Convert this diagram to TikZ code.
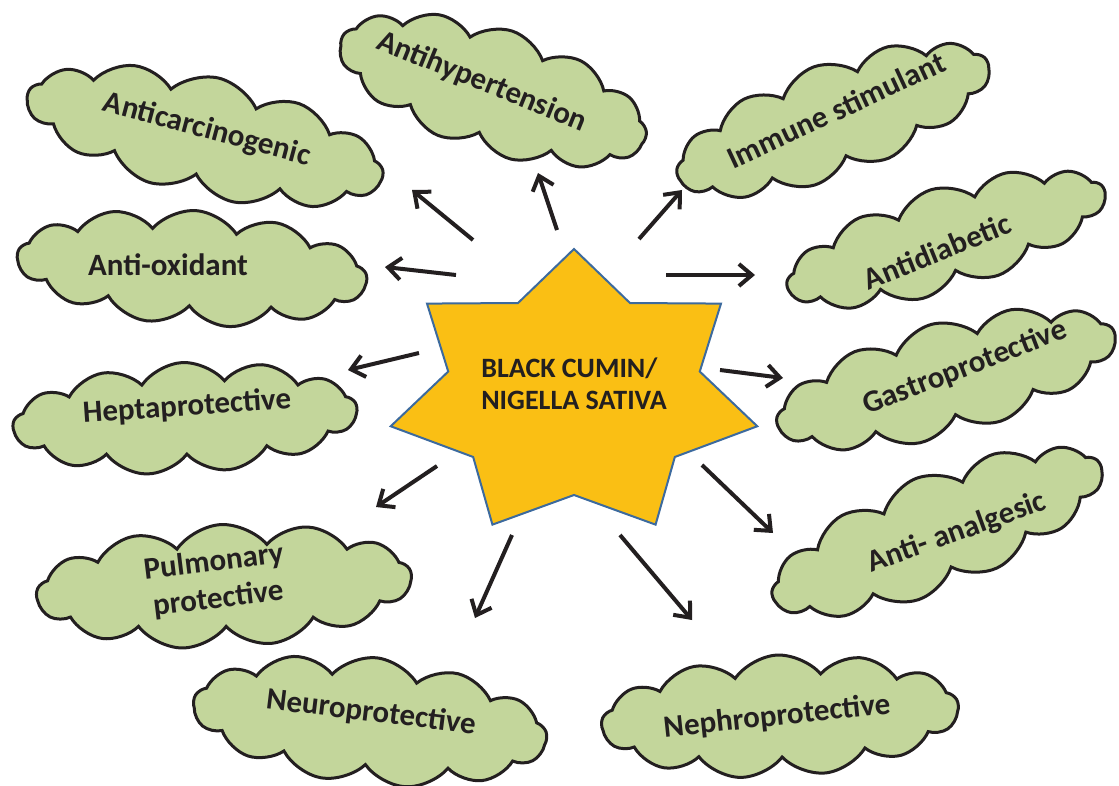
\documentclass[tikz,border=0pt]{standalone}
\usepackage{fontspec}
\setmainfont{Carlito}
\usetikzlibrary{arrows.meta,shapes.symbols}
\definecolor{leaf}{HTML}{C3D69B}
\definecolor{gold}{HTML}{FABF14}
\definecolor{steel}{HTML}{3C6A9E}
\definecolor{ink}{HTML}{231F20}

\begin{document}
\begin{tikzpicture}[
    x=1pt,y=-1pt,
    >={Straight Barb[length=13pt,width=22pt]},
    every node/.style={text=ink,font=\bfseries\fontsize{31}{37}\selectfont},
    puff/.style={cloud,cloud puffs=13,cloud puff arc=105,cloud ignores aspect,draw=ink,line width=3pt,fill=leaf,inner sep=0pt},
    tag/.style={inner sep=0pt,align=center},
    arr/.style={->,draw=ink,line width=4pt},
    corestar/.style={fill=gold,draw=steel,line width=2pt,line join=miter}
]
\path[use as bounding box,fill=white] (0,0) rectangle (1119,786);

% clouds round the star
\node[puff,minimum width=320pt,minimum height=124pt,rotate=-18] (hyper) at (493,90) {};
\node[tag,rotate=-22] (hyper-t) at (482,82) {Antihypertension};
\node[puff,minimum width=364pt,minimum height=119pt,rotate=-13] (carc) at (205,136) {};
\node[tag,rotate=-15] (carc-t) at (207,130) {Anticarcinogenic};
\node[puff,minimum width=330pt,minimum height=113pt,rotate=20] (immune) at (833,120) {};
\node[tag,rotate=25] (immune-t) at (836,110) {Immune stimulant};
\node[puff,minimum width=350pt,minimum height=115pt,rotate=-4] (oxid) at (192,268) {};
\node[tag] (oxid-t) at (168,265) {Anti-oxidant};
\node[puff,minimum width=344pt,minimum height=111pt,rotate=3] (hepta) at (185,418) {};
\node[tag,rotate=4] (hepta-t) at (187,407) {Heptaprotective};
\node[puff,minimum width=331pt,minimum height=103pt,rotate=17] (diab) at (946,239) {};
\node[tag,rotate=22] (diab-t) at (937,251) {Antidiabetic};
\node[puff,minimum width=349pt,minimum height=113pt,rotate=15] (gastro) at (946,379) {};
\node[tag,rotate=21] (gastro-t) at (965,368) {Gastroprotective};
\node[puff,minimum width=375pt,minimum height=123pt,rotate=3] (pulm) at (224,586) {};
\node[tag,rotate=7] (pulm-t) at (216,581) {Pulmonary\\protective};
\node[puff,minimum width=353pt,minimum height=115pt,rotate=22] (analg) at (937,532) {};
\node[tag,rotate=20] (analg-t) at (957,533) {Anti- analgesic};
\node[puff,minimum width=355pt,minimum height=127pt,rotate=-6] (neuro) at (370,721) {};
\node[tag,rotate=-7] (neuro-t) at (371,713) {Neuroprotective};
\node[puff,minimum width=357pt,minimum height=122pt,rotate=3] (nephro) at (780,716) {};
\node[tag,rotate=6] (nephro-t) at (777,717) {Nephroprotective};

% the seven pointed star
\draw[corestar] (574,249) \foreach \k in {0,...,6}{
    -- ({574+129*cos(90-(\k+0.5)*360/7)},{394-101*sin(90-(\k+0.5)*360/7)})
    -- ({574+188*cos(90-(\k+1)*360/7)},{394-145*sin(90-(\k+1)*360/7)})} -- cycle;
\node[align=left,inner sep=0pt,font=\bfseries\fontsize{28}{32}\selectfont] (core) at (574,384) {BLACK CUMIN/\\NIGELLA SATIVA};

% arrow ends
\coordinate (carc-s) at (473,240);   \coordinate (carc-e) at (412,190);
\coordinate (hyper-s) at (557,230);  \coordinate (hyper-e) at (538,173);
\coordinate (immune-s) at (639,239); \coordinate (immune-e) at (682,190);
\coordinate (oxid-s) at (456,275);   \coordinate (oxid-e) at (385,267);
\coordinate (diab-s) at (666,275);   \coordinate (diab-e) at (755,275);
\coordinate (hepta-s) at (419,353);  \coordinate (hepta-e) at (348,370);
\coordinate (gastro-s) at (720,370); \coordinate (gastro-e) at (783,378);
\coordinate (pulm-s) at (437,466);   \coordinate (pulm-e) at (376,507);
\coordinate (analg-s) at (702,465);  \coordinate (analg-e) at (773,533);
\coordinate (neuro-s) at (512,535);  \coordinate (neuro-e) at (475,618);
\coordinate (nephro-s) at (620,535); \coordinate (nephro-e) at (692,620);

\draw[arr] (carc-s) -- (carc-e);
\draw[arr] (hyper-s) -- (hyper-e);
\draw[arr] (immune-s) -- (immune-e);
\draw[arr] (oxid-s) -- (oxid-e);
\draw[arr] (diab-s) -- (diab-e);
\draw[arr] (hepta-s) -- (hepta-e);
\draw[arr] (gastro-s) -- (gastro-e);
\draw[arr] (pulm-s) -- (pulm-e);
\draw[arr] (analg-s) -- (analg-e);
\draw[arr] (neuro-s) -- (neuro-e);
\draw[arr] (nephro-s) -- (nephro-e);
\end{tikzpicture}
\end{document}
